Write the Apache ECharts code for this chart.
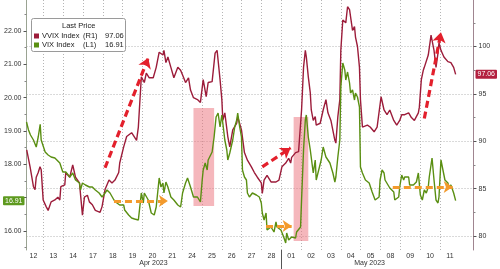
<!DOCTYPE html>
<html><head><meta charset="utf-8">
<script src="https://cdn.jsdelivr.net/npm/echarts@6/dist/echarts.min.js"></script>
<style>html,body{margin:0;padding:0;background:#fff}#c{width:500px;height:269px}</style>
</head><body><div id="c"></div>
<script>
// ---- data ----
const days = ['12','13','14','17','18','19','20','21','24','25','26','27','28','01','02','03','04','05','08','09','10','11'];
const months = ['Apr 2023','May 2023'];
const monthPos = [6.55, 17.45];
const monthBreak = [13];
const leftTicks = [16,17,18,19,20,21,22];
const leftLabels = [16,18,19,20,21,22];
const rightTicks = [80,85,90,95,100];
const lastVvix = 97.06;
const lastVix = 16.91;

// x = trading-day index (Apr 12 = 0), y = index level
const vvix = [[0.16,89.1],[0.33,87.3],[0.50,85.2],[0.58,84.9],[0.64,86.2],[0.74,86.7],[0.83,87.3],[0.89,87.0],[0.99,83.8],[1.14,83.1],[1.24,82.7],[1.39,83.6],[1.58,83.8],[1.73,84.1],[1.83,83.8],[1.88,85.2],[2.08,85.4],[2.13,86.7],[2.33,86.2],[2.48,87.5],[2.62,86.2],[2.82,85.6],[2.97,82.2],[3.07,84.1],[3.22,84.3],[3.32,83.6],[3.47,83.3],[3.62,82.7],[3.86,82.5],[3.96,83.1],[4.11,84.9],[4.31,85.9],[4.46,85.6],[4.61,85.9],[4.80,86.7],[4.85,87.7],[5.05,89.4],[5.20,90.5],[5.30,90.7],[5.45,90.9],[5.55,90.7],[5.70,90.1],[5.79,91.5],[5.84,93.3],[5.94,96.8],
[6.09,96.2],[6.19,97.2],[6.34,96.7],[6.54,96.7],[6.69,97.8],[6.84,99.4],[7.03,99.1],[7.08,99.6],[7.18,98.3],[7.28,98.9],[7.43,97.8],[7.58,96.7],[7.78,97.8],[7.92,97.5],[8.02,97.0],[8.17,96.2],[8.32,96.7],[8.42,95.4],[8.57,94.6],[8.77,94.4],[8.92,94.1],[9.06,96.5],[9.21,94.7],[9.31,96.2],[9.51,96.3],[9.66,99.3],[9.76,99.6],[9.91,96.5],[10.00,94.4],[10.05,92.2],[10.15,93.0],[10.30,90.5],[10.40,89.4],[10.55,91.2],[10.75,91.9],[10.80,92.6],[10.99,91.2],[11.14,88.8],[11.29,88.0],[11.49,87.3],[11.64,86.7],[11.79,86.2],[11.99,85.6],[12.04,84.5],[12.13,85.9],
[12.28,86.4],[12.48,85.7],[12.73,85.7],[12.88,85.9],[12.98,85.7],[13.03,87.3],[13.22,87.7],[13.37,88.2],[13.47,87.7],[13.52,88.3],[13.72,88.8],[13.87,88.9],[13.97,88.8],[14.02,93.3],[14.12,97.8],[14.21,99.6],[14.26,98.9],[14.36,96.8],[14.46,95.1],[14.51,93.3],[14.61,92.2],[14.71,92.6],[14.76,91.7],[14.96,91.9],[15.11,93.3],[15.25,94.4],[15.35,93.0],[15.50,92.2],[15.70,90.1],[15.75,89.8],[15.85,92.6],[15.95,94.4],[16.00,99.6],[16.10,102.8],[16.25,102.5],[16.34,104.2],[16.44,103.9],[16.59,101.7],[16.69,102.1],[16.74,101.0],[16.84,100.0],[16.94,97.8],[16.99,94.4],[17.09,91.5],[17.19,91.4],[17.34,91.7],[17.48,91.5],[17.68,91.0],[17.73,90.9],[17.83,91.5],[17.93,91.7],[18.03,94.7],[18.18,93.3],[18.33,92.8],[18.47,93.3],[18.67,92.2],[18.82,91.7],[18.97,92.2],[19.07,92.8],[19.22,92.8],[19.42,93.0],[19.56,92.5],[19.71,92.2],[19.91,93.0],[19.96,93.6],[20.06,96.5],[20.16,97.5],[20.21,97.8],[20.31,97.8],[20.41,99.1],[20.55,101.2],[20.70,99.6],[20.80,97.8],[20.90,99.3],[20.95,100.4],[21.05,99.6],[21.20,98.9],[21.40,98.4],[21.55,98.3],[21.69,97.8],[21.79,97.06]];

const vix = [[0.15,19.27],[0.25,19.03],[0.35,18.88],[0.50,18.73],[0.64,18.52],[0.74,18.82],[0.84,19.2],[0.89,18.73],[1.09,18.37],[1.24,18.28],[1.39,18.22],[1.58,18.19],[1.63,18.22],[1.83,18.04],[1.98,17.77],[2.08,17.74],[2.13,17.77],[2.33,17.62],[2.48,17.74],[2.62,17.53],[2.82,17.44],[2.87,17.23],[2.97,17.44],[3.12,17.38],[3.32,17.32],[3.47,17.32],[3.62,17.23],[3.81,17.14],[3.96,17.02],[4.11,17.14],[4.21,17.23],[4.36,17.14],[4.56,16.93],[4.71,16.84],[4.85,16.78],[5.05,16.78],[5.10,16.63],[5.30,16.48],[5.45,16.39],[5.60,16.36],[5.79,16.33],[5.84,16.27],[5.94,17.14],
[6.04,16.84],[6.09,17.14],[6.29,16.93],[6.44,16.54],[6.59,16.48],[6.69,16.72],[6.84,17.59],[6.93,17.32],[7.03,17.44],[7.08,17.14],[7.18,17.47],[7.28,17.32],[7.43,17.02],[7.58,16.93],[7.78,16.78],[7.92,16.72],[8.02,17.14],[8.17,17.44],[8.27,17.59],[8.42,17.32],[8.57,17.02],[8.77,17.02],[8.92,16.87],[9.01,17.53],[9.06,17.83],[9.16,18.04],[9.26,17.83],[9.31,18.13],[9.51,18.37],[9.61,18.82],[9.71,19.42],[9.81,19.54],[9.91,19.12],[10.00,19.48],[10.05,19.42],[10.15,18.73],[10.25,18.43],[10.30,18.13],[10.40,18.34],[10.55,18.73],[10.65,19.12],[10.75,19.33],[10.80,19.54],[10.90,19.12],[10.99,18.82],[11.04,17.83],[11.14,17.62],[11.24,17.53],[11.29,17.14],[11.39,17.02],[11.54,17.14],[11.74,17.08],[11.89,17.02],[11.99,16.84],[12.04,16.54],[12.13,16.33],
[12.23,16.54],[12.28,16.03],[12.48,16.12],[12.63,15.97],[12.73,16.27],[12.78,16.12],[12.98,16.03],[13.12,15.82],[13.22,15.64],[13.27,15.94],[13.37,15.73],[13.52,15.82],[13.72,15.79],[13.77,15.97],[13.87,16.03],[13.97,16.12],[14.02,16.93],[14.12,18.43],[14.21,19.33],[14.26,19.48],[14.36,18.82],[14.46,18.43],[14.61,17.74],[14.71,18.13],[14.76,17.53],[14.86,17.47],[15.01,18.13],[15.11,18.52],[15.21,18.52],[15.25,18.22],[15.45,18.04],[15.60,17.74],[15.70,17.47],[15.75,17.62],[15.85,18.22],[15.95,18.73],[16.00,20.32],[16.10,21.04],[16.20,20.83],[16.25,20.53],[16.34,20.77],[16.44,20.44],[16.49,20.14],[16.59,20.23],[16.69,19.93],[16.74,20.14],[16.84,20.02],[16.94,19.72],[16.99,17.92],[17.09,17.74],[17.24,17.53],[17.43,17.44],[17.58,17.17],[17.73,16.93],[17.83,16.87],[17.93,17.02],[17.98,17.53],[18.08,17.83],[18.18,17.74],[18.23,17.53],[18.33,17.47],[18.47,17.29],[18.67,17.17],[18.72,16.93],[18.92,17.02],[18.97,17.32],[19.07,17.68],[19.17,17.53],[19.22,17.62],[19.42,17.62],[19.47,17.38],[19.66,17.38],[19.71,17.32],[19.81,17.47],[19.91,17.74],[20.01,17.08],[20.11,16.93],[20.21,17.23],[20.31,17.14],[20.41,17.32],[20.46,17.62],[20.60,18.19],[20.70,17.53],[20.80,16.93],[20.90,16.84],[20.95,17.02],[21.05,18.13],[21.15,17.83],[21.25,17.53],[21.40,17.44],[21.45,17.29],[21.55,17.38],[21.64,17.38],[21.69,17.14],[21.79,16.91]];

// annotations (data coordinates)
const pinkBoxes = [[[8.57,19.69],[9.61,16.75]], [[13.62,19.42],[14.36,15.70]]];           // VIX axis
const redArrows = [[[4.11,87.2],[6.29,98.8]], [[12.04,87.3],[13.47,89.3]], [[20.21,92.4],[21.05,101.5]]]; // VVIX axis
const orangeArrows = [[[4.56,16.90],[7.28,16.90]], [[12.23,16.15],[13.52,16.15]], [[18.62,17.32],[21.64,17.32]]]; // VIX axis

// ---- chart ----
const FONT = 'Liberation Sans';
const xMin = 0.15, xMax = 22.69;
const lMin = 15.43, lMax = 22.93;
const rMin = 78.52, rMax = 104.91;
const halfSteps = (a) => a.slice(0, -1).map((v, i) => (v + a[i + 1]) / 2);

const chart = echarts.init(document.getElementById('c'));
const dotted = { show: true, lineStyle: { color: '#b5b5b5', type: [1, 2], width: 1 } };
const noLine = { show: false };

const option = {
  animation: false,
  backgroundColor: '#ffffff',
  textStyle: { fontFamily: FONT },
  grid: { left: 23, right: 22, top: 0, bottom: 19 },
  xAxis: [
    { type: 'value', min: xMin, max: xMax, position: 'bottom',
      axisLine: noLine,
      axisTick: { show: false, customValues: days.slice(1).map((d, i) => i + 1) },
      axisLabel: { customValues: days.map((d, i) => i + 0.5), formatter: v => days[Math.floor(v)],
                   fontSize: 7, color: '#333', margin: 3, fontFamily: FONT },
      splitLine: dotted },
    { type: 'value', min: xMin, max: xMax, position: 'bottom',
      axisLine: noLine,
      axisTick: { show: true, customValues: monthBreak, length: 19, lineStyle: { color: '#555', width: 1 } },
      axisLabel: { customValues: monthPos, formatter: v => months[monthPos.indexOf(v)],
                   fontSize: 7, color: '#333', margin: 10, fontFamily: FONT },
      splitLine: noLine }
  ],
  yAxis: [
    { type: 'value', min: lMin, max: lMax, position: 'left',
      axisLine: { show: true, lineStyle: { color: '#9aa392', width: 1 } },
      axisTick: { show: true, customValues: leftTicks, length: 3, lineStyle: { color: '#555' } },
      axisLabel: { customValues: leftLabels, formatter: v => v.toFixed(2), fontSize: 7, color: '#333', margin: 5, fontFamily: FONT },
      splitLine: noLine },
    { type: 'value', min: rMin, max: rMax, position: 'right',
      axisLine: { show: true, lineStyle: { color: '#a08590', width: 1 } },
      axisTick: { show: true, customValues: rightTicks, length: 3, lineStyle: { color: '#555' } },
      axisLabel: { customValues: rightTicks, fontSize: 7, color: '#333', margin: 5, fontFamily: FONT },
      splitLine: dotted },
    { type: 'value', min: lMin, max: lMax, position: 'left',
      axisLine: noLine, splitLine: noLine, axisLabel: { show: false },
      axisTick: { show: true, customValues: halfSteps([15, 16, 17, 18, 19, 20, 21, 22, 23]), length: 2, lineStyle: { color: '#888' } } },
    { type: 'value', min: rMin, max: rMax, position: 'right',
      axisLine: noLine, splitLine: noLine, axisLabel: { show: false },
      axisTick: { show: true, customValues: halfSteps([75, 80, 85, 90, 95, 100, 105]), length: 2, lineStyle: { color: '#888' } } },
    { type: 'value', min: lMin, max: lMax, position: 'left',
      axisLine: noLine, splitLine: noLine, axisTick: { show: false },
      axisLabel: { customValues: [lastVix], formatter: v => v.toFixed(2), fontSize: 7, color: '#fff', margin: 2,
                   backgroundColor: '#5e9a1f', padding: [1, 2, 1, 2], borderRadius: 1, fontFamily: FONT } },
    { type: 'value', min: rMin, max: rMax, position: 'right',
      axisLine: noLine, splitLine: noLine, axisTick: { show: false },
      axisLabel: { customValues: [lastVvix], formatter: v => v.toFixed(2), fontSize: 7, color: '#fff', margin: 2,
                   backgroundColor: '#b3203f', padding: [1, 2, 1, 2], borderRadius: 1, fontFamily: FONT } }
  ],
  legend: {
    orient: 'vertical', left: 34, top: 31.5, padding: 0, itemWidth: 5, itemHeight: 5, itemGap: 0, icon: 'rect',
    data: ['VVIX Index', 'VIX Index'], z: 20, selectedMode: false,
    formatter: n => n === 'VVIX Index' ? `{n|VVIX Index}{r|(R1)}{v|${lastVvix.toFixed(2)}}` : `{n|VIX Index}{r|(L1)}{v|${lastVix.toFixed(2)}}`,
    textStyle: { fontSize: 7.5, color: '#222', lineHeight: 9, padding: [0, 0, 0, -2], fontFamily: FONT,
      rich: { n: { width: 41, fontSize: 7.5, fontFamily: FONT }, r: { width: 22, fontSize: 7.5, fontFamily: FONT }, v: { fontSize: 7.5, fontFamily: FONT } } }
  },
  graphic: [
    { type: 'rect', left: 31, top: 18, z: 15, shape: { width: 94, height: 33, r: 2 },
      style: { fill: '#fff', stroke: '#9a9a9a', lineWidth: 1 } },
    { type: 'text', left: 62, top: 21.5, z: 16, style: { text: 'Last Price', fontSize: 7.5, fill: '#222', fontFamily: FONT } }
  ],
  series: [
    { name: 'VVIX Index', type: 'line', xAxisIndex: 0, yAxisIndex: 1, data: vvix, showSymbol: false, z: 3,
      color: '#9c1c3a', lineStyle: { color: '#9c1c3a', width: 1.4 }, emphasis: { disabled: true } },
    { name: 'VIX Index', type: 'line', xAxisIndex: 0, yAxisIndex: 0, data: vix, showSymbol: false, z: 4,
      color: '#5a8f12', lineStyle: { color: '#5a8f12', width: 1.4 }, emphasis: { disabled: true } },
    { type: 'line', xAxisIndex: 0, yAxisIndex: 0, data: [], z: 6, silent: true,
      markArea: { silent: true, itemStyle: { color: 'rgba(236,112,122,0.5)' },
        data: pinkBoxes.map(b => [{ coord: b[0] }, { coord: b[1] }]) },
      markLine: { silent: true, symbol: ['none', 'arrow'], symbolSize: [9, 9], label: { show: false },
        lineStyle: { color: '#f39a2c', width: 3, type: [7, 4] },
        data: orangeArrows.map(a => [{ coord: a[0] }, { coord: a[1] }]) } },
    { type: 'line', xAxisIndex: 0, yAxisIndex: 1, data: [], z: 7, silent: true,
      markLine: { silent: true, symbol: ['none', 'arrow'], symbolSize: [10, 10], label: { show: false },
        lineStyle: { color: '#e3202c', width: 3.2, type: [7, 4] },
        data: redArrows.map(a => [{ coord: a[0] }, { coord: a[1] }]) } }
  ]
};
chart.setOption(option);
</script>
</body></html>
